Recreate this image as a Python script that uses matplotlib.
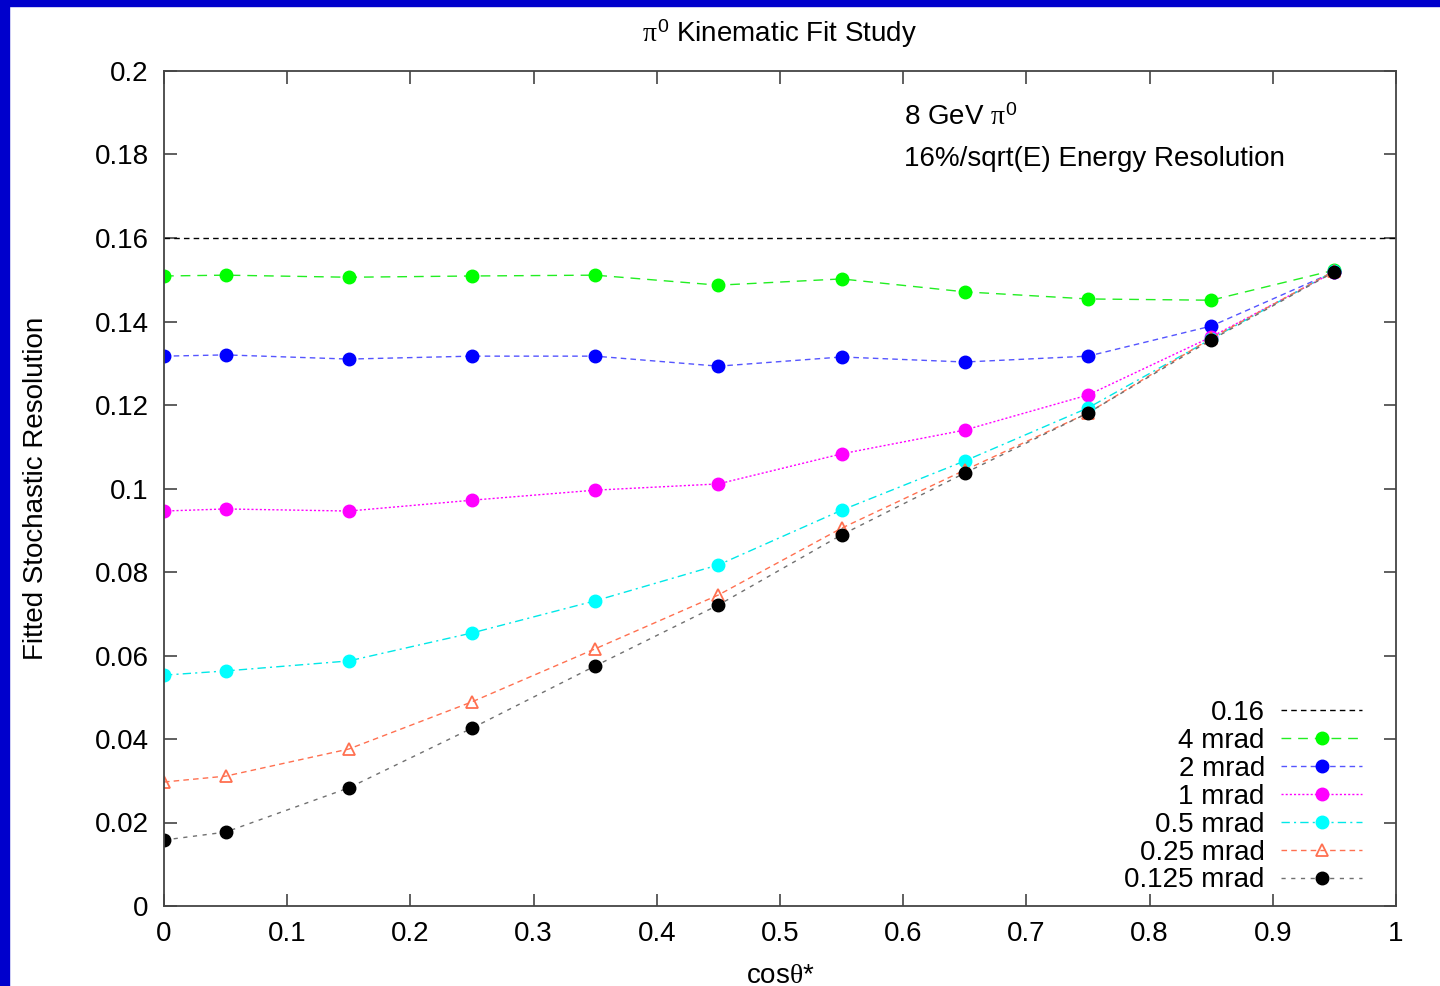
import matplotlib
matplotlib.use('Agg')
import matplotlib.pyplot as plt
from matplotlib.patches import Rectangle
from matplotlib.ticker import FormatStrFormatter, MultipleLocator

plt.rcParams['font.family'] = ['Liberation Sans', 'DejaVu Sans']
plt.rcParams['mathtext.fontset'] = 'custom'
plt.rcParams['mathtext.rm'] = 'Liberation Sans'
plt.rcParams['mathtext.it'] = 'Liberation Serif'

# data
cos_theta = [0.0, 0.05, 0.15, 0.25, 0.35, 0.45, 0.55, 0.65, 0.75, 0.85, 0.95]
res_4mrad = [0.1509, 0.1511, 0.1506, 0.1509, 0.1511, 0.1487, 0.1502, 0.1471, 0.1454, 0.1451, 0.1523]
res_2mrad = [0.1317, 0.1320, 0.1310, 0.1317, 0.1317, 0.1293, 0.1315, 0.1303, 0.1317, 0.1389, 0.1519]
res_1mrad = [0.0946, 0.0951, 0.0946, 0.0972, 0.0996, 0.1011, 0.1083, 0.1140, 0.1224, 0.1363, 0.1519]
res_05mrad = [0.0553, 0.0563, 0.0587, 0.0654, 0.0731, 0.0817, 0.0948, 0.1066, 0.1193, 0.1358, 0.1521]
res_025mrad = [0.0297, 0.0311, 0.0376, 0.0489, 0.0616, 0.0745, 0.0905, 0.1044, 0.1181, 0.1360, 0.1521]
res_0125mrad = [0.0158, 0.0177, 0.0283, 0.0426, 0.0575, 0.0721, 0.0889, 0.1037, 0.1181, 0.1356, 0.1519]
ref_level = 0.16

series = [
    ('4 mrad', res_4mrad, '#22ee22', '#00ff00', 'o', (0, (7, 5))),
    ('2 mrad', res_2mrad, '#5555ff', '#0000ff', 'o', (0, (4, 3))),
    ('1 mrad', res_1mrad, '#ff00ff', '#ff00ff', 'o', (0, (1.5, 1.5))),
    ('0.5 mrad', res_05mrad, '#00e8e8', '#00ffff', 'o', (0, (6, 3, 1.5, 3))),
    ('0.25 mrad', res_025mrad, '#ff7050', 'none', '^', (0, (4, 3))),
    ('0.125 mrad', res_0125mrad, '#707070', '#000000', 'o', (0, (3, 4))),
]

W, H = 1440, 986
fig = plt.figure(figsize=(W / 100, H / 100), dpi=100)
ax = fig.add_axes([164 / W, 1 - 906 / H, (1396 - 164) / W, (906 - 71) / H])

# slide border
fig.patches.append(Rectangle((0, 1 - 6 / H), 1, 6 / H, transform=fig.transFigure,
                             color='#0000cc', zorder=0))
fig.patches.append(Rectangle((0, 0), 9 / W, 1, transform=fig.transFigure,
                             color='#0000cc', zorder=0))

ax.axhline(ref_level, color='black', lw=1.0, ls=(0, (4, 3)), label='0.16')
for name, vals, lc, mc, mk, ls in series:
    if mk == '^':
        ax.plot(cos_theta, vals, color=lc, lw=1.0, ls=ls, marker=mk, ms=9,
                mfc='none', mec=lc, mew=1.3, label=name)
    else:
        ax.plot(cos_theta, vals, color=lc, lw=1.0, ls=ls, marker=mk, ms=9,
                mfc=mc, mec=mc, label=name)

ax.set_xlim(0, 1)
ax.set_ylim(0, 0.2)
ax.xaxis.set_major_locator(MultipleLocator(0.1))
ax.yaxis.set_major_locator(MultipleLocator(0.02))
ax.xaxis.set_major_formatter(FormatStrFormatter('%g'))
ax.yaxis.set_major_formatter(FormatStrFormatter('%g'))
ax.tick_params(direction='in', length=9, width=1.2, color='#444444',
               top=True, right=True, labelsize=20, pad=11)
for sp in ax.spines.values():
    sp.set_color('#444444')
    sp.set_linewidth(1.3)

ax.set_title(r'$\pi^0$ Kinematic Fit Study', fontsize=20, pad=21)
ax.set_xlabel(r'cos$\theta$*', fontsize=20, labelpad=11)
ax.set_ylabel('Fitted Stochastic Resolution', fontsize=20, labelpad=33)

ax.text(0.6006, 0.944, r'8 GeV $\pi^0$', transform=ax.transAxes, fontsize=20,
        va='center', ha='left')
ax.text(0.6006, 0.895, '16%/sqrt(E) Energy Resolution', transform=ax.transAxes,
        fontsize=20, va='center', ha='left')

leg = ax.legend(loc='lower right', bbox_to_anchor=(0.9724, 0.015), frameon=False,
                fontsize=20, markerfirst=False, labelspacing=0.07, handlelength=2.9,
                handletextpad=0.6, borderpad=0, borderaxespad=0, numpoints=1)
for col in leg._legend_handle_box.get_children():
    col.align = 'right'

fig.savefig('out.png', dpi=100)
